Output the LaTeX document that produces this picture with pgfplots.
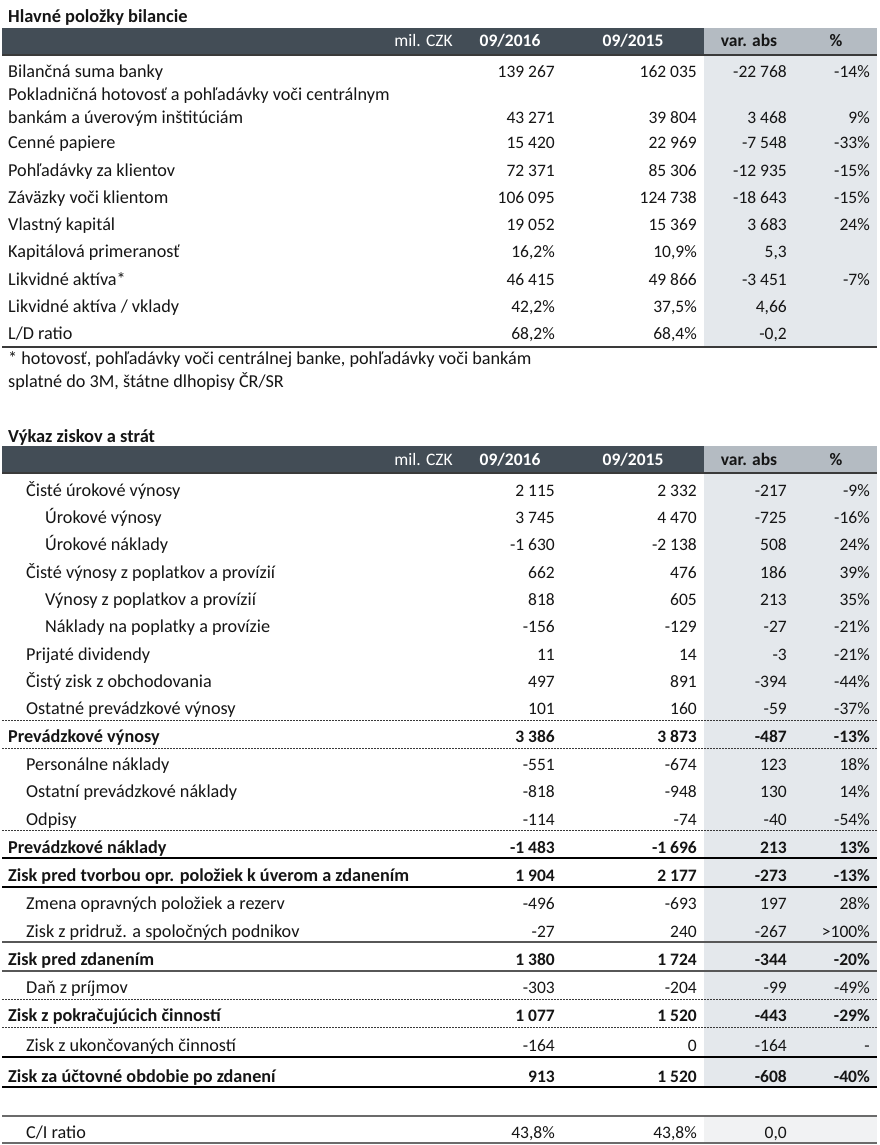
\documentclass[border=0pt]{standalone}
\usepackage{fontspec}
\setmainfont{Carlito}
\usepackage{pgfplots}
\pgfplotsset{compat=1.18}
\definecolor{hdark}{HTML}{434D56}
\definecolor{hlight}{HTML}{B4BBC2}
\definecolor{cshade}{HTML}{E4E8EC}
\definecolor{cshadeb}{HTML}{F1F2F3}
\definecolor{txt}{HTML}{151515}
\definecolor{rule}{HTML}{3A3A3A}
\newcommand{\fs}{\fontsize{17.5}{20}\selectfont}
\newcommand{\fl}{\fontsize{18.2}{20}\selectfont}
\newcommand{\ft}{\fontsize{18.4}{22}\selectfont\bfseries}
\tikzset{
  lab/.style={anchor=base west,inner sep=0,font=\fl,text=txt},
  num/.style={anchor=base east,inner sep=0,font=\fs,text=txt},
}
% y, x of label, label, v1, v2, var, pct
\newcommand{\rowN}[7]{%
  \node[lab] at (axis cs:#2,#1+6) {#3};
  \node[num] at (axis cs:555,#1+6) {#4};
  \node[num] at (axis cs:697,#1+6) {#5};
  \node[num] at (axis cs:787,#1+6) {#6};
  \node[num] at (axis cs:870,#1+6) {#7};
}
\newcommand{\rowB}[7]{%
  \node[lab,font=\fl\bfseries] at (axis cs:#2,#1+6) {#3};
  \node[num,font=\fs\bfseries] at (axis cs:555,#1+6) {#4};
  \node[num,font=\fs\bfseries] at (axis cs:697,#1+6) {#5};
  \node[num,font=\fs\bfseries] at (axis cs:787,#1+6) {#6};
  \node[num,font=\fs\bfseries] at (axis cs:870,#1+6) {#7};
}
\newcommand{\header}[1]{%
  \fill[hdark] (axis cs:2,#1) rectangle (axis cs:704,#1+27);
  \fill[hlight] (axis cs:704,#1) rectangle (axis cs:877,#1+27);
  \draw[rule,line width=1.3pt] (axis cs:2,#1+27) -- (axis cs:877,#1+27);
  \node[anchor=base east,inner sep=0,font=\fs,text=white] at (axis cs:453,#1+19) {mil. CZK};
  \node[anchor=base,inner sep=0,font=\fs\bfseries,text=white] at (axis cs:510,#1+19) {09/2016};
  \node[anchor=base,inner sep=0,font=\fs\bfseries,text=white] at (axis cs:633,#1+19) {09/2015};
  \node[anchor=base,inner sep=0,font=\fs\bfseries,text=txt] at (axis cs:749,#1+19) {var. abs};
  \node[anchor=base,inner sep=0,font=\fs\bfseries,text=txt] at (axis cs:836,#1+19) {\%};
}
\newcommand{\dline}[1]{\draw[rule,line width=0.7pt,dash pattern=on 2pt off 1pt] (axis cs:2,#1) -- (axis cs:877,#1);}
\begin{document}
\begin{tikzpicture}
\begin{axis}[
  scale only axis, width=880pt, height=1145pt,
  xmin=0, xmax=880, ymin=0, ymax=1145, y dir=reverse,
  axis lines=none, ticks=none, clip=false,
]
\path (axis cs:0,0) rectangle (axis cs:880,1145);
% ---------- Section 1 ----------
\fill[cshade] (axis cs:704,55) rectangle (axis cs:877,347);
\node[anchor=base west,inner sep=0,font=\ft,text=txt] at (axis cs:8,23) {Hlavné položky bilancie};
\header{28}
\rowN{72}{8}{Bilančná suma banky}{139 267}{162 035}{-22 768}{-14\%}
\node[lab] at (axis cs:8,95+6) {Pokladničná hotovosť a pohľadávky voči centrálnym};
\rowN{118}{8}{bankám a úverovým inštitúciám}{43 271}{39 804}{3 468}{9\%}
\rowN{143}{8}{Cenné papiere}{15 420}{22 969}{-7 548}{-33\%}
\rowN{170}{8}{Pohľadávky za klientov}{72 371}{85 306}{-12 935}{-15\%}
\rowN{197}{8}{Záväzky voči klientom}{106 095}{124 738}{-18 643}{-15\%}
\rowN{224}{8}{Vlastný kapitál}{19 052}{15 369}{3 683}{24\%}
\rowN{251}{8}{Kapitálová primeranosť}{16,2\%}{10,9\%}{5,3}{}
\rowN{279}{8}{Likvidné aktíva*}{46 415}{49 866}{-3 451}{-7\%}
\rowN{306}{8}{Likvidné aktíva / vklady}{42,2\%}{37,5\%}{4,66}{}
\rowN{333}{8}{L/D ratio}{68,2\%}{68,4\%}{-0,2}{}
\draw[rule,line width=1.3pt] (axis cs:2,347) -- (axis cs:877,347);
\node[lab] at (axis cs:8,358+6) {* hotovosť, pohľadávky voči centrálnej banke, pohľadávky voči bankám};
\node[lab] at (axis cs:8,381+6) {splatné do 3M, štátne dlhopisy ČR/SR};
% ---------- Section 2 ----------
\fill[cshade] (axis cs:704,473) rectangle (axis cs:877,1087);
\fill[cshadeb] (axis cs:704,1116) rectangle (axis cs:877,1143);
\node[anchor=base west,inner sep=0,font=\ft,text=txt] at (axis cs:8,442) {Výkaz ziskov a strát};
\header{446}
\rowN{490}{26}{Čisté úrokové výnosy}{2 115}{2 332}{-217}{-9\%}
\rowN{517}{45}{Úrokové výnosy}{3 745}{4 470}{-725}{-16\%}
\rowN{544}{45}{Úrokové náklady}{-1 630}{-2 138}{508}{24\%}
\rowN{572}{26}{Čisté výnosy z poplatkov a provízií}{662}{476}{186}{39\%}
\rowN{599}{45}{Výnosy z poplatkov a provízií}{818}{605}{213}{35\%}
\rowN{626}{45}{Náklady na poplatky a provízie}{-156}{-129}{-27}{-21\%}
\rowN{654}{26}{Prijaté dividendy}{11}{14}{-3}{-21\%}
\rowN{681}{26}{Čistý zisk z obchodovania}{497}{891}{-394}{-44\%}
\rowN{708}{26}{Ostatné prevádzkové výnosy}{101}{160}{-59}{-37\%}
\rowB{736}{8}{Prevádzkové výnosy}{3 386}{3 873}{-487}{-13\%}
\rowN{764}{26}{Personálne náklady}{-551}{-674}{123}{18\%}
\rowN{791}{26}{Ostatní prevádzkové náklady}{-818}{-948}{130}{14\%}
\rowN{819}{26}{Odpisy}{-114}{-74}{-40}{-54\%}
\rowB{847}{8}{Prevádzkové náklady}{-1 483}{-1 696}{213}{13\%}
\rowB{875}{8}{Zisk pred tvorbou opr. položiek k úverom a zdanením}{1 904}{2 177}{-273}{-13\%}
\rowN{903}{26}{Zmena opravných položiek a rezerv}{-496}{-693}{197}{28\%}
\rowN{931}{26}{Zisk z pridruž. a spoločných podnikov}{-27}{240}{-267}{>100\%}
\rowB{959}{8}{Zisk pred zdanením}{1 380}{1 724}{-344}{-20\%}
\rowN{987}{26}{Daň z príjmov}{-303}{-204}{-99}{-49\%}
\rowB{1015}{8}{Zisk z pokračujúcich činností}{1 077}{1 520}{-443}{-29\%}
\rowN{1045}{26}{Zisk z ukončovaných činností}{-164}{0}{-164}{-}
\rowB{1076}{8}{Zisk za účtovné obdobie po zdanení}{913}{1 520}{-608}{-40\%}
\rowN{1132}{26}{C/I ratio}{43,8\%}{43,8\%}{0,0}{}
% rules
\dline{720}
\dline{748}
\dline{830}
\dline{999}
\dline{1027}
\draw[black,line width=1.3pt] (axis cs:2,858) -- (axis cs:877,858);
\draw[black,line width=1.3pt] (axis cs:2,887) -- (axis cs:877,887);
\draw[rule!85,line width=1.6pt] (axis cs:2,942) -- (axis cs:877,942);
\draw[rule!85,line width=1.6pt] (axis cs:2,971) -- (axis cs:877,971);
\draw[black,line width=2.2pt] (axis cs:2,1057) -- (axis cs:877,1057);
\draw[black,line width=2.2pt] (axis cs:2,1087) -- (axis cs:877,1087);
\draw[rule!75,line width=1.6pt] (axis cs:2,1116) -- (axis cs:877,1116);
\draw[rule!75,line width=1.6pt] (axis cs:2,1143) -- (axis cs:877,1143);
\end{axis}
\end{tikzpicture}
\end{document}
